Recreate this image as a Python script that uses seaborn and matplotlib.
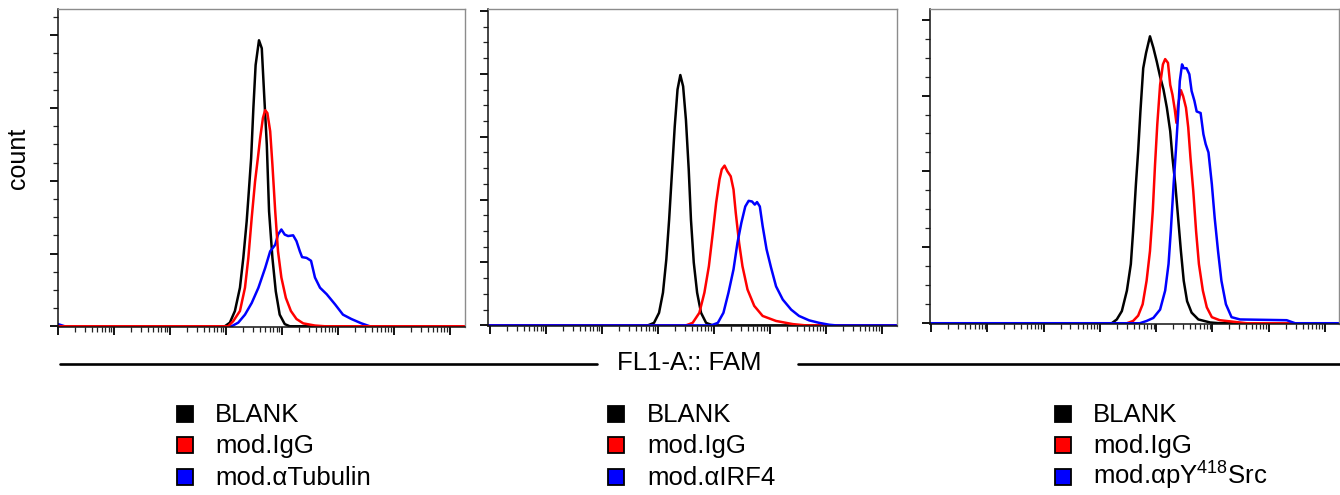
import numpy as np
import pandas as pd
import matplotlib
matplotlib.use("Agg")
import matplotlib.pyplot as plt
import seaborn as sns
from matplotlib.ticker import LogLocator, NullFormatter, MultipleLocator
from matplotlib.patches import Rectangle
from matplotlib.lines import Line2D

# ---------------- data (x in log10 decades of FL1-A, y in count units) ----------------
p1_black_x = [0, 2.98, 3.07, 3.16, 3.25, 3.31, 3.37, 3.40, 3.45, 3.49, 3.53, 3.59, 3.64, 3.68, 3.73, 3.77, 3.83, 3.89, 3.96, 4.05, 4.14, 7.3]
p1_black_y = [0, 0, 0.05, 0.21, 0.53, 0.94, 1.44, 1.76, 2.31, 3.00, 3.59, 3.93, 3.82, 3.22, 2.49, 1.58, 0.94, 0.48, 0.16, 0.03, 0, 0]
p1_red_x = [0, 3.04, 3.13, 3.25, 3.34, 3.40, 3.46, 3.52, 3.57, 3.61, 3.66, 3.70, 3.74, 3.79, 3.83, 3.88, 3.93, 3.99, 4.07, 4.16, 4.26, 4.38, 4.59, 4.77, 7.3]
p1_red_y = [0, 0, 0.07, 0.21, 0.53, 0.94, 1.49, 1.99, 2.31, 2.58, 2.86, 2.97, 2.93, 2.68, 2.22, 1.58, 1.03, 0.67, 0.39, 0.21, 0.10, 0.04, 0.01, 0, 0]
p1_blue_x = [0, 0.12, 3.10, 3.22, 3.34, 3.46, 3.58, 3.70, 3.79, 3.88, 3.93, 3.99, 4.05, 4.11, 4.20, 4.26, 4.32, 4.36, 4.44, 4.52, 4.59, 4.68, 4.80, 4.95, 5.09, 5.24, 5.42, 5.57, 7.3]
p1_blue_y = [0.03, 0, 0, 0.05, 0.16, 0.32, 0.53, 0.80, 1.03, 1.12, 1.26, 1.33, 1.26, 1.24, 1.25, 1.17, 1.03, 0.95, 0.94, 0.90, 0.67, 0.53, 0.44, 0.30, 0.16, 0.10, 0.04, 0, 0]

p2_black_x = [-0.03, 2.82, 2.93, 3.02, 3.09, 3.15, 3.20, 3.25, 3.30, 3.35, 3.40, 3.45, 3.50, 3.55, 3.59, 3.64, 3.70, 3.77, 3.86, 3.98, 7.3]
p2_black_y = [0, 0, 0.04, 0.20, 0.52, 1.05, 1.68, 2.42, 3.16, 3.75, 3.98, 3.80, 3.27, 2.48, 1.68, 1.00, 0.52, 0.20, 0.04, 0, 0]
p2_red_x = [-0.03, 3.50, 3.62, 3.74, 3.83, 3.91, 3.98, 4.04, 4.10, 4.14, 4.19, 4.24, 4.30, 4.35, 4.39, 4.45, 4.51, 4.60, 4.72, 4.87, 5.11, 5.41, 5.64, 7.3]
p2_red_y = [0, 0, 0.04, 0.20, 0.52, 0.94, 1.47, 1.95, 2.32, 2.48, 2.54, 2.45, 2.37, 2.16, 1.79, 1.31, 0.94, 0.57, 0.31, 0.15, 0.07, 0.02, 0, 0]
p2_blue_x = [-0.03, 3.95, 4.07, 4.17, 4.26, 4.35, 4.42, 4.49, 4.56, 4.62, 4.68, 4.73, 4.77, 4.82, 4.87, 4.94, 5.02, 5.11, 5.23, 5.38, 5.52, 5.70, 5.88, 6.06, 6.18, 7.3]
p2_blue_y = [0, 0, 0.04, 0.20, 0.52, 0.89, 1.31, 1.63, 1.89, 1.98, 1.97, 1.92, 1.96, 1.89, 1.58, 1.21, 0.92, 0.62, 0.41, 0.25, 0.15, 0.08, 0.04, 0.01, 0, 0]

p3_black_x = [-0.02, 3.21, 3.30, 3.39, 3.48, 3.55, 3.59, 3.64, 3.68, 3.72, 3.77, 3.82, 3.89, 3.95, 4.01, 4.07, 4.13, 4.19, 4.25, 4.29, 4.34, 4.39, 4.44, 4.49, 4.55, 4.63, 4.75, 4.96, 5.13, 7.3]
p3_black_y = [0, 0, 0.05, 0.16, 0.43, 0.78, 1.21, 1.83, 2.27, 2.79, 3.36, 3.56, 3.78, 3.63, 3.45, 3.25, 3.08, 2.84, 2.53, 2.18, 1.83, 1.39, 0.95, 0.56, 0.29, 0.14, 0.05, 0.01, 0, 0]
p3_red_x = [-0.02, 3.48, 3.59, 3.68, 3.76, 3.83, 3.89, 3.94, 3.98, 4.02, 4.07, 4.12, 4.16, 4.21, 4.25, 4.29, 4.33, 4.36, 4.39, 4.44, 4.48, 4.53, 4.57, 4.61, 4.66, 4.71, 4.76, 4.83, 4.90, 4.99, 5.13, 5.37, 5.61, 7.3]
p3_red_y = [0, 0, 0.03, 0.10, 0.25, 0.56, 0.95, 1.48, 2.09, 2.62, 3.14, 3.41, 3.48, 3.43, 3.14, 3.01, 2.82, 2.64, 2.88, 3.07, 2.99, 2.84, 2.58, 2.18, 1.74, 1.21, 0.78, 0.43, 0.21, 0.08, 0.04, 0.02, 0, 0]
p3_blue_x = [-0.02, 3.71, 3.83, 3.95, 4.07, 4.16, 4.22, 4.26, 4.31, 4.35, 4.39, 4.42, 4.46, 4.49, 4.54, 4.59, 4.63, 4.68, 4.72, 4.79, 4.84, 4.88, 4.93, 4.99, 5.04, 5.10, 5.16, 5.24, 5.34, 5.49, 6.32, 6.47, 7.3]
p3_blue_y = [0, 0, 0.03, 0.07, 0.18, 0.43, 0.78, 1.21, 1.83, 2.27, 2.75, 3.19, 3.41, 3.36, 3.36, 3.28, 3.06, 2.93, 2.79, 2.77, 2.49, 2.36, 2.25, 1.83, 1.39, 0.95, 0.56, 0.25, 0.08, 0.05, 0.04, 0, 0]

blank_label = "BLANK"
igg_label = "mod.IgG"
blue_labels = ["mod.αTubulin", "mod.αIRF4", "mod.αpY$^{418}$Src"]
x_title = "FL1-A:: FAM"
y_title = "count"
colors = {"black": "#000000", "red": "#ff0000", "blue": "#0000ff"}

# ---------------- style ----------------
sns.set_theme(style="ticks")
plt.rcParams["font.family"] = ["Liberation Sans", "DejaVu Sans"]
plt.rcParams["text.color"] = "black"
plt.rcParams["mathtext.fontset"] = "custom"
plt.rcParams["mathtext.rm"] = "Liberation Sans"
plt.rcParams["mathtext.it"] = "Liberation Sans"
plt.rcParams["mathtext.default"] = "rm"

W, H = 1340, 495
fig = plt.figure(figsize=(W / 100, H / 100), dpi=100)

# panel boxes in pixels: left, right, top, bottom
boxes = [(58, 465, 9, 327), (488, 897, 9, 326), (930, 1339, 9, 324)]
xlims = [(0.0, 7.27), (-0.035, 7.27), (-0.02, 7.25)]
ytops = [4.36, 5.03, 4.14]

panels = [
    [(p1_black_x, p1_black_y, blank_label, "black"), (p1_blue_x, p1_blue_y, blue_labels[0], "blue"), (p1_red_x, p1_red_y, igg_label, "red")],
    [(p2_black_x, p2_black_y, blank_label, "black"), (p2_red_x, p2_red_y, igg_label, "red"), (p2_blue_x, p2_blue_y, blue_labels[1], "blue")],
    [(p3_black_x, p3_black_y, blank_label, "black"), (p3_red_x, p3_red_y, igg_label, "red"), (p3_blue_x, p3_blue_y, blue_labels[2], "blue")],
]

for i, (box, series) in enumerate(zip(boxes, panels)):
    l, r, t, b = box
    ax = fig.add_axes([l / W, 1 - b / H, (r - l) / W, (b - t) / H])
    frames = []
    for xs, ys, lab, col in series:
        frames.append(pd.DataFrame({"FL1": np.power(10.0, np.array(xs)), "count": ys, "sample": lab}))
    df = pd.concat(frames, ignore_index=True)
    order = [s[2] for s in series]
    pal = {s[2]: colors[s[3]] for s in series}
    sns.lineplot(data=df, x="FL1", y="count", hue="sample", hue_order=order, palette=pal,
                 estimator=None, sort=False, legend=False, linewidth=1.8, ax=ax)
    ax.set_xscale("log")
    ax.set_xlim(10 ** xlims[i][0], 10 ** xlims[i][1])
    ax.set_ylim(-0.01, ytops[i])
    ax.xaxis.set_major_locator(LogLocator(base=10, numticks=20))
    ax.xaxis.set_minor_locator(LogLocator(base=10, subs=np.arange(2, 10), numticks=200))
    ax.xaxis.set_major_formatter(NullFormatter())
    ax.xaxis.set_minor_formatter(NullFormatter())
    ax.yaxis.set_major_locator(MultipleLocator(1))
    ax.yaxis.set_minor_locator(MultipleLocator(0.25))
    ax.tick_params(axis="both", which="major", direction="out", length=6, width=1.3, color="black",
                   labelleft=False, labelbottom=False, left=True, bottom=True)
    ax.tick_params(axis="both", which="minor", direction="out", length=3.5, width=0.9, color="#222222",
                   left=True, bottom=True)
    ax.set_xlabel("")
    ax.set_ylabel("")
    for side in ["left", "bottom"]:
        ax.spines[side].set_color("#111111")
        ax.spines[side].set_linewidth(1.1)
    for side in ["top", "right"]:
        ax.spines[side].set_color("#8c8c8c")
        ax.spines[side].set_linewidth(1.0)

# y label
fig.text(18 / W, 1 - 158 / H, y_title, rotation=90, ha="center", va="center", fontsize=18, color="black")

# x label with lines
ly = 1 - 364 / H
fig.add_artist(Line2D([60 / W, 597 / W], [ly, ly], color="black", lw=1.9))
fig.add_artist(Line2D([798 / W, 1.0], [ly, ly], color="black", lw=1.9))
fig.text(689 / W, 1 - 363 / H, x_title, ha="center", va="center", fontsize=18.5, color="black")

# legends
sq_x = [177, 608, 1055]
tx_x = [215, 647, 1093]
base_y = [422, 453, 485]
for i in range(3):
    entries = [(blank_label, colors["black"]), (igg_label, colors["red"]), (blue_labels[i], colors["blue"])]
    for j, (lab, col) in enumerate(entries):
        by = base_y[j]
        fig.add_artist(Rectangle((sq_x[i] / W, 1 - by / H), 16 / W, 16 / H, transform=fig.transFigure,
                                 facecolor=col, edgecolor="black", linewidth=1.3))
        fig.text(tx_x[i] / W, 1 - by / H, lab, ha="left", va="baseline", fontsize=18.5, color="black")

fig.savefig("out.png", dpi=100)
